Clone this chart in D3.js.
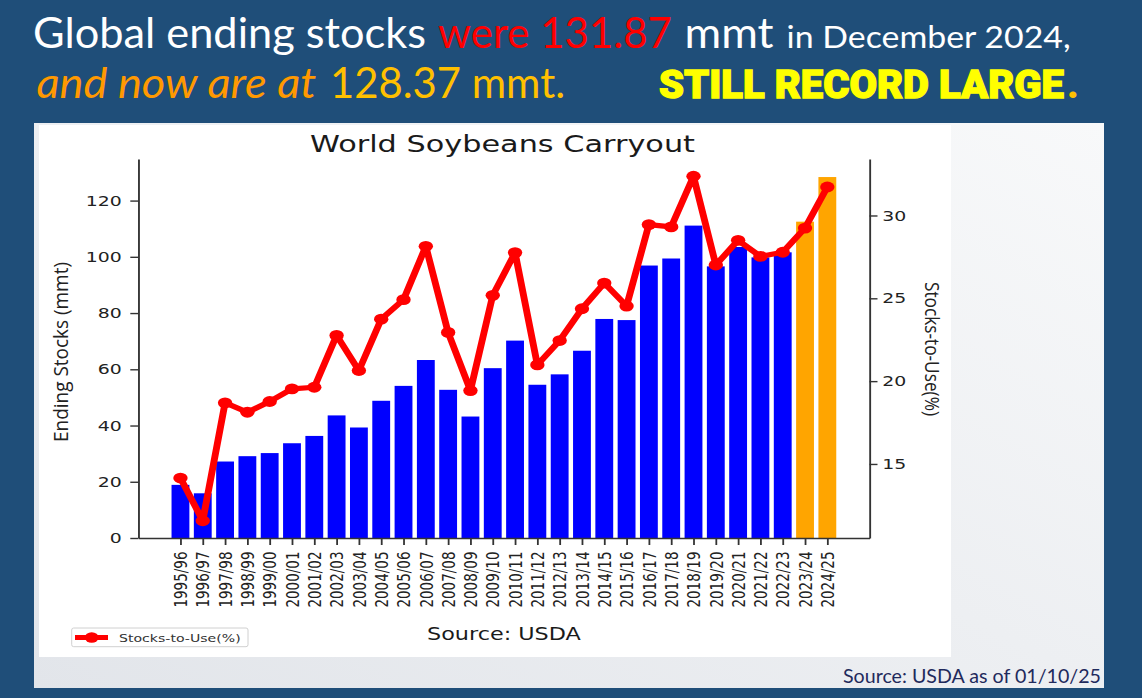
<!DOCTYPE html>
<html><head><meta charset="utf-8">
<script src="https://cdn.jsdelivr.net/npm/d3@7"></script>
<style>html,body{margin:0;padding:0;background:#1F4E79;}svg{display:block}</style>
</head><body>
<script>
// ---- data ----
const categories = ['1995/96','1996/97','1997/98','1998/99','1999/00','2000/01','2001/02','2002/03','2003/04','2004/05','2005/06','2006/07','2007/08','2008/09','2009/10','2010/11','2011/12','2012/13','2013/14','2014/15','2015/16','2016/17','2017/18','2018/19','2019/20','2020/21','2021/22','2022/23','2023/24','2024/25'];
const endingStocks = [18.9,15.9,27.2,29.1,30.2,33.7,36.3,43.6,39.3,48.8,54.1,63.3,52.7,43.2,60.4,70.2,54.5,58.2,66.6,77.9,77.5,96.9,99.4,111.1,96.6,103.5,99.8,101.6,112.5,128.37];
const stocksToUse = [14.15,11.57,18.69,18.12,18.77,19.53,19.63,22.76,20.64,23.74,24.92,28.14,22.94,19.43,25.18,27.76,20.98,22.45,24.37,25.92,24.53,29.45,29.31,32.37,27.01,28.5,27.53,27.78,29.24,31.72];
const highlighted = ['2023/24','2024/25'];
const leftTicks = [0,20,40,60,80,100,120];
const rightTicks = [15,20,25,30];

const W=1142,H=698, SX=1.33;
const svg=d3.select('body').append('svg').attr('width',W).attr('height',H);
svg.append('rect').attr('width',W).attr('height',H).attr('fill','#1F4E79');

// ---- header ----
const hdr = [
  {t:'Global ending stocks',x:33,y:48,len:393,fill:'#FFFFFF',fs:42},
  {t:'were 131.87',x:438,y:48,len:234,fill:'#FF0000',fs:42},
  {t:'mmt',x:684.6,y:48,len:89,fill:'#FFFFFF',fs:42},
  {t:'in December 2024,',x:786.6,y:48,len:284,fill:'#FFFFFF',fs:31},
  {t:'and now are at',x:36.4,y:98,len:280,fill:'#FF9900',fs:42,it:true},
  {t:'128.37 mmt.',x:330,y:98,len:235,fill:'#FFC000',fs:42}
];
hdr.forEach(d=>{
  svg.append('text').attr('x',d.x).attr('y',d.y).text(d.t)
    .attr('font-family','Lato, "Open Sans", sans-serif').attr('font-size',d.fs)
    .attr('font-style',d.it?'italic':'normal').attr('fill',d.fill)
    .attr('textLength',d.len).attr('lengthAdjust','spacingAndGlyphs');
});
svg.append('text').attr('x',659).attr('y',98).text('STILL RECORD LARGE')
  .attr('font-family','Roboto, "DejaVu Sans", sans-serif').attr('font-weight',900).attr('font-size',39)
  .attr('fill','#FFFF00').attr('stroke','#FFFF00').attr('stroke-width',1.3)
  .attr('textLength',405).attr('lengthAdjust','spacingAndGlyphs');
svg.append('text').attr('x',1067).attr('y',98).text('.')
  .attr('font-family','Roboto, sans-serif').attr('font-weight',900).attr('font-size',39).attr('fill','#FFC000');

// ---- panels ----
const defs=svg.append('defs');
const g1=defs.append('linearGradient').attr('id','pg').attr('x1','0').attr('y1','1').attr('x2','1').attr('y2','0');
g1.append('stop').attr('offset','0').attr('stop-color','#E2E5EA');
g1.append('stop').attr('offset','1').attr('stop-color','#F8F9FA');
svg.append('rect').attr('x',34).attr('y',123).attr('width',1070).attr('height',565).attr('fill','url(#pg)');
svg.append('rect').attr('x',39).attr('y',125).attr('width',912).attr('height',532).attr('fill','#FFFFFF');
svg.append('text').attr('x',1101).attr('y',683).attr('text-anchor','end').text('Source: USDA as of 01/10/25')
  .attr('font-family','Lato, "Open Sans", sans-serif').attr('font-size',19).attr('fill','#1F2A5C')
  .attr('textLength',258).attr('lengthAdjust','spacingAndGlyphs');

// ---- chart ----
const n=categories.length, bwFrac=0.8;
const xPad=(n-1+bwFrac)*0.05;
const x=d3.scaleLinear().domain([-bwFrac/2-xPad, n-1+bwFrac/2+xPad]).range([138.3,869.5]);
const yL=d3.scaleLinear().domain([0, d3.max(endingStocks)*1.05]).range([538,159]);
const [smin,smax]=d3.extent(stocksToUse); const sp=(smax-smin)*0.05;
const yR=d3.scaleLinear().domain([smin-sp, smax+sp]).range([538,159]);
const bw=(x(1)-x(0))*bwFrac;
const font='"DejaVu Sans", sans-serif';

svg.append('g').selectAll('rect').data(categories).join('rect')
  .attr('x',(d,i)=>x(i)-bw/2).attr('y',(d,i)=>yL(endingStocks[i]))
  .attr('width',bw).attr('height',(d,i)=>yL(0)-yL(endingStocks[i]))
  .attr('fill',d=>highlighted.includes(d)?'#FFA500':'#0000FF');

// left axis
const gl=svg.append('g').attr('transform',`translate(138.3,0) scale(${SX},1)`)
  .call(d3.axisLeft(yL).tickValues(leftTicks).tickSize(8/SX).tickSizeOuter(0).tickPadding(6.5));
gl.selectAll('text').attr('font-family',font).attr('font-size',14.2).attr('fill','#222');
gl.selectAll('line,path').attr('stroke','#333').attr('stroke-width',1.4);

// right axis
const gr=svg.append('g').attr('transform',`translate(869.5,0) scale(${SX},1)`)
  .call(d3.axisRight(yR).tickValues(rightTicks).tickSize(8/SX).tickSizeOuter(0).tickPadding(3.5));
gr.selectAll('text').attr('font-family',font).attr('font-size',14.2).attr('fill','#222');
gr.selectAll('line,path').attr('stroke','#333').attr('stroke-width',1.4);

// bottom axis
const gb=svg.append('g').attr('transform','translate(0,538)')
  .call(d3.axisBottom(x).tickValues(d3.range(n)).tickFormat(i=>categories[i]).tickSize(7).tickSizeOuter(0));
gb.selectAll('path').attr('stroke','#333').attr('stroke-width',1.5);
gb.selectAll('line').attr('stroke','#333').attr('stroke-width',1.8);
gb.selectAll('text').attr('y',null).attr('dy',null)
  .attr('transform',`translate(0,13.5) scale(${SX},1) rotate(-90)`)
  .attr('text-anchor','end').attr('dominant-baseline','central')
  .attr('font-family',font).attr('font-size',13.5).attr('fill','#222');

// line + markers (stretched like the picture)
const lg=svg.append('g').attr('transform',`scale(${SX},1)`);
lg.append('path').datum(stocksToUse)
  .attr('d',d3.line().x((d,i)=>x(i)/SX).y(d=>yR(d)))
  .attr('fill','none').attr('stroke','#FF0000').attr('stroke-width',5.2).attr('stroke-linejoin','round');
lg.selectAll('circle').data(stocksToUse).join('circle')
  .attr('cx',(d,i)=>x(i)/SX).attr('cy',d=>yR(d)).attr('r',5.4).attr('fill','#FF0000');

// title and labels
svg.append('text').attr('transform',`translate(502.5,151.5) scale(${SX},1)`).attr('text-anchor','middle')
  .text('World Soybeans Carryout').attr('font-family',font).attr('font-size',22.8).attr('fill','#1a1a1a');
svg.append('text').attr('transform',`translate(503.9,640) scale(${SX},1)`).attr('text-anchor','middle')
  .text('Source: USDA').attr('font-family',font).attr('font-size',16.8).attr('fill','#1a1a1a');
svg.append('text').attr('transform',`translate(68,352) scale(${SX},1) rotate(-90)`).attr('text-anchor','middle')
  .text('Ending Stocks (mmt)').attr('font-family','"Open Sans", sans-serif').attr('font-size',15).attr('fill','#222')
  .attr('textLength',180).attr('lengthAdjust','spacingAndGlyphs');
svg.append('text').attr('transform',`translate(925,349) scale(${SX},1) rotate(90)`).attr('text-anchor','middle')
  .text('Stocks-to-Use(%)').attr('font-family','"Open Sans", sans-serif').attr('font-size',15).attr('fill','#222')
  .attr('textLength',134).attr('lengthAdjust','spacingAndGlyphs');

// legend
svg.append('rect').attr('x',71.7).attr('y',628).attr('width',176.3).attr('height',18.7)
  .attr('fill','#fff').attr('stroke','#d0d0d0').attr('stroke-width',1).attr('rx',2);
const leg=svg.append('g').attr('transform',`scale(${SX},1)`);
leg.append('line').attr('x1',75/SX).attr('x2',108/SX).attr('y1',637.5).attr('y2',637.5)
  .attr('stroke','#FF0000').attr('stroke-width',5);
leg.append('circle').attr('cx',91.7/SX).attr('cy',637.5).attr('r',5.2).attr('fill','#FF0000');
svg.append('text').attr('transform',`translate(119,641.5) scale(${SX},1)`).text('Stocks-to-Use(%)')
  .attr('font-family',font).attr('font-size',10.6).attr('fill','#333');
</script>
</body></html>
